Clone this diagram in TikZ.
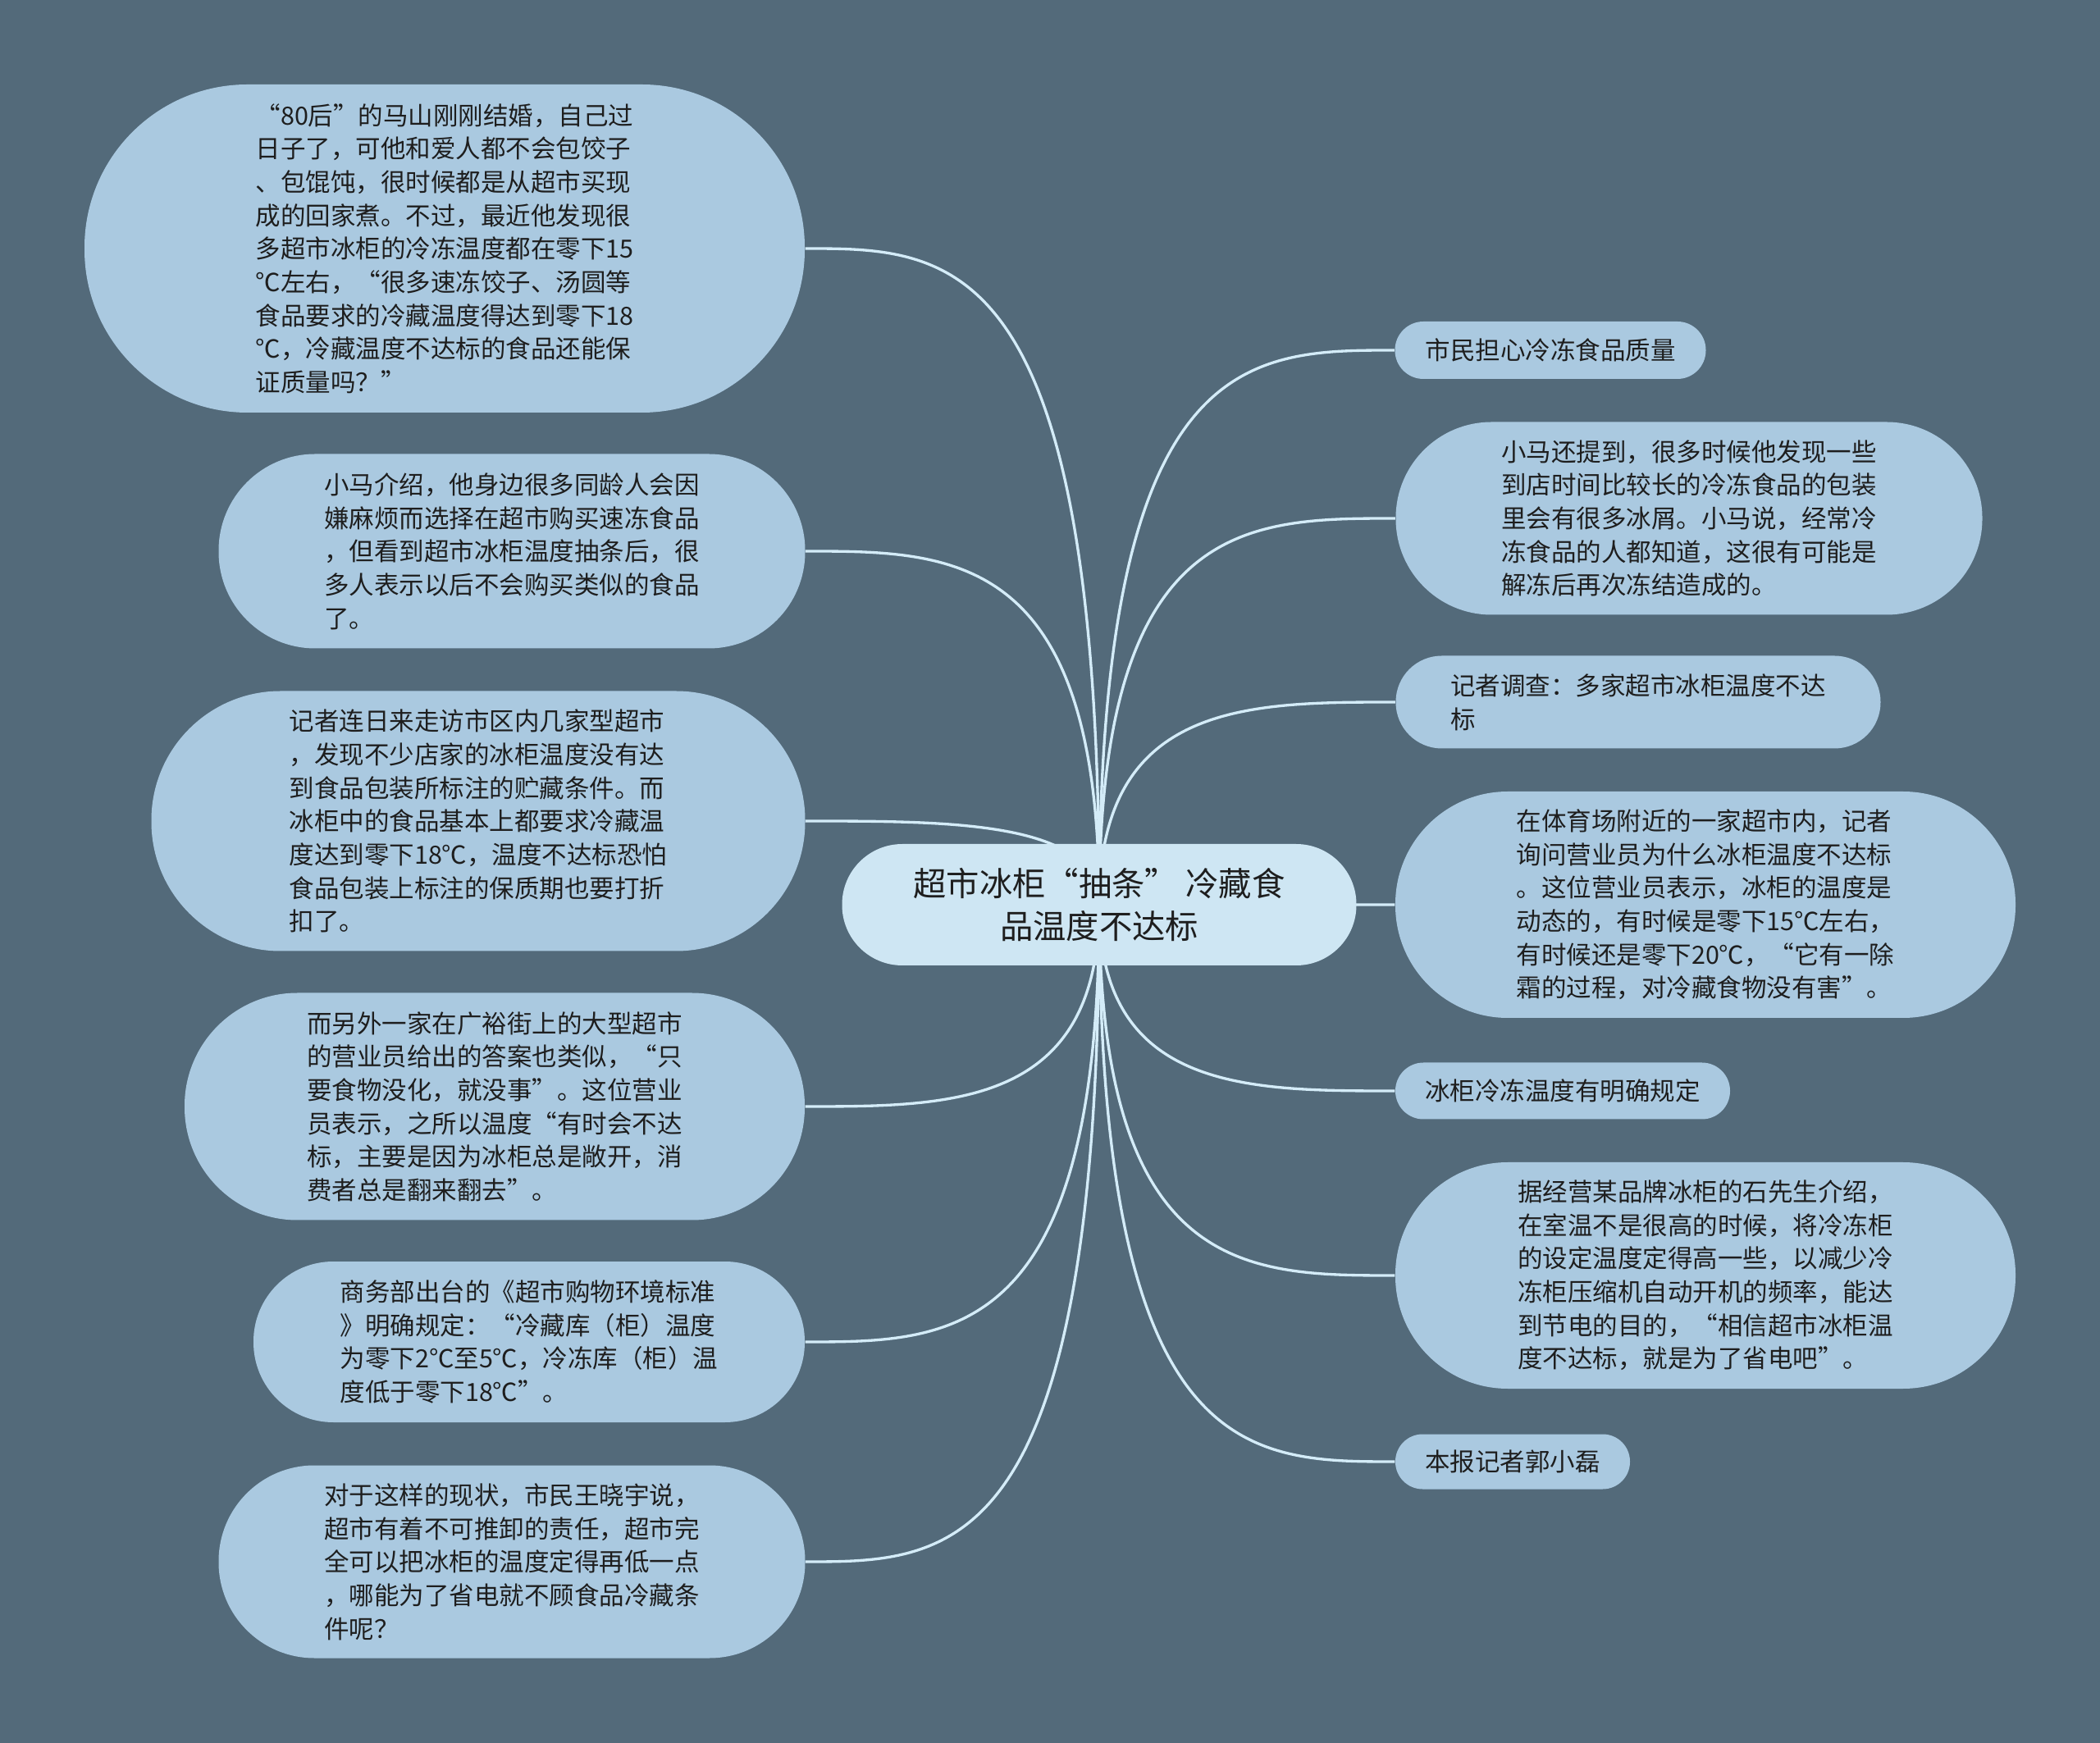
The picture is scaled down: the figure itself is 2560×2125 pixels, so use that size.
\documentclass[tikz,border=0pt]{standalone}
\usepackage{fontspec}
\setmainfont{Noto Sans CJK SC}
\usetikzlibrary{calc}
\definecolor{bgc}{RGB}{83,106,122}
\definecolor{nodec}{RGB}{170,201,224}
\definecolor{rootc}{RGB}{206,230,243}
\definecolor{linec}{RGB}{212,236,248}
\definecolor{txtc}{RGB}{30,30,30}
\pgfdeclarelayer{back}
\pgfdeclarelayer{lines}
\pgfsetlayers{back,lines,main}
\tikzset{
  bub/.style n args={2}{shape=rectangle, minimum width={#1*0.3pt}, minimum height={#2*0.3pt},
    rounded corners={#2*0.149pt}, fill=nodec, draw=none, inner sep=0pt, align=left,
    text=txtc, font=\fontsize{9.15pt}{12.2pt}\selectfont},
  rootbox/.style={shape=rectangle, minimum width={627*0.3pt}, minimum height={148*0.3pt},
    rounded corners={148*0.149pt}, fill=rootc, draw=none, inner sep=0pt, align=center,
    text=txtc, font=\fontsize{12.1pt}{15.6pt}\selectfont},
  conn/.style={draw=linec, line width=1pt}
}
\begin{document}
\begin{tikzpicture}[x=0.3pt,y=-0.3pt]
\useasboundingbox (0,0) rectangle (2560,2125);
\begin{pgfonlayer}{back}
\fill[bgc] (0,0) rectangle (2560,2125);
\end{pgfonlayer}

\node[rootbox] (C) at (1340,1103) {超市冰柜“抽条” 冷藏食\\品温度不达标};

\node[bub={878}{400}] (L1) at (542,303) {“80后”的马山刚刚结婚，自己过\\日子了，可他和爱人都不会包饺子\\、包馄饨，很时候都是从超市买现\\成的回家煮。不过，最近他发现很\\多超市冰柜的冷冻温度都在零下15\\℃左右，“很多速冻饺子、汤圆等\\食品要求的冷藏温度得达到零下18\\℃，冷藏温度不达标的食品还能保\\证质量吗？”};
\node[bub={715}{237}] (L2) at (624,672) {小马介绍，他身边很多同龄人会因\\嫌麻烦而选择在超市购买速冻食品\\，但看到超市冰柜温度抽条后，很\\多人表示以后不会购买类似的食品\\了。};
\node[bub={797}{317}] (L3) at (583,1001) {记者连日来走访市区内几家型超市\\，发现不少店家的冰柜温度没有达\\到食品包装所标注的贮藏条件。而\\冰柜中的食品基本上都要求冷藏温\\度达到零下18℃，温度不达标恐怕\\食品包装上标注的保质期也要打折\\扣了。};
\node[bub={756}{277}] (L4) at (603,1349) {而另外一家在广裕街上的大型超市\\的营业员给出的答案也类似，“只\\要食物没化，就没事”。这位营业\\员表示，之所以温度“有时会不达\\标，主要是因为冰柜总是敞开，消\\费者总是翻来翻去”。};
\node[bub={672}{196}] (L5) at (645,1636) {商务部出台的《超市购物环境标准\\》明确规定：“冷藏库（柜）温度\\为零下2℃至5℃，冷冻库（柜）温\\度低于零下18℃”。};
\node[bub={715}{235}] (L6) at (624,1904) {对于这样的现状，市民王晓宇说，\\超市有着不可推卸的责任，超市完\\全可以把冰柜的温度定得再低一点\\，哪能为了省电就不顾食品冷藏条\\件呢？};

\node[bub={379}{70}] (R1) at (1890,427) {市民担心冷冻食品质量};
\node[bub={715}{235}] (R2) at (2059,632) {小马还提到，很多时候他发现一些\\到店时间比较长的冷冻食品的包装\\里会有很多冰屑。小马说，经常冷\\冻食品的人都知道，这很有可能是\\解冻后再次冻结造成的。};
\node[bub={591}{113}] (R3) at (1997,856) {记者调查：多家超市冰柜温度不达\\标};
\node[bub={756}{276}] (R4) at (2079,1103) {在体育场附近的一家超市内，记者\\询问营业员为什么冰柜温度不达标\\。这位营业员表示，冰柜的温度是\\动态的，有时候是零下15℃左右，\\有时候还是零下20℃，“它有一除\\霜的过程，对冷藏食物没有害”。};
\node[bub={408}{69}] (R5) at (1905,1330) {冰柜冷冻温度有明确规定};
\node[bub={756}{276}] (R6) at (2079,1555) {据经营某品牌冰柜的石先生介绍，\\在室温不是很高的时候，将冷冻柜\\的设定温度定得高一些，以减少冷\\冻柜压缩机自动开机的频率，能达\\到节电的目的，“相信超市冰柜温\\度不达标，就是为了省电吧”。};
\node[bub={286}{67}] (R7) at (1844,1782) {本报记者郭小磊};

\begin{pgfonlayer}{lines}
\foreach \n in {L1,L2,L3,L4,L5,L6}{
  \draw[conn] (C.center) .. controls (C.center |- \n.east) and ($(C.center |- \n.east)!0.5!(\n.east)$) .. (\n.east);
}
\foreach \n in {R1,R2,R3,R4,R5,R6,R7}{
  \draw[conn] (C.center) .. controls (C.center |- \n.west) and ($(C.center |- \n.west)!0.5!(\n.west)$) .. (\n.west);
}
\end{pgfonlayer}
\end{tikzpicture}
\end{document}
